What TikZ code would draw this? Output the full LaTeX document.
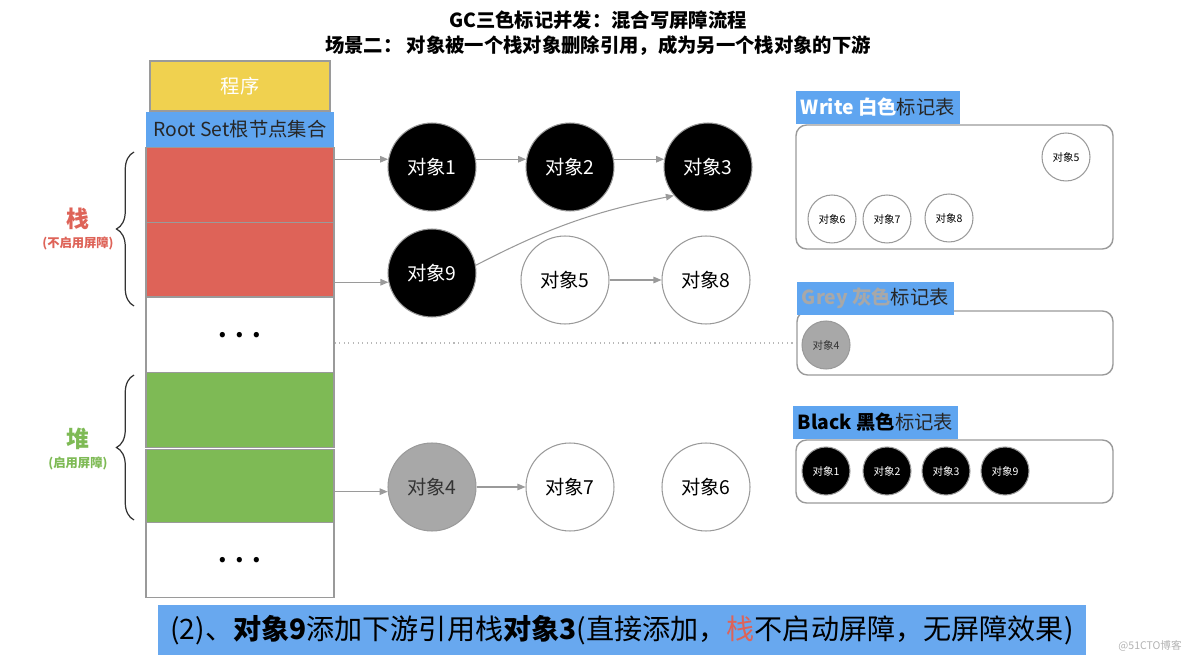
\documentclass[tikz,border=0pt]{standalone}
\usepackage{fontspec}
\setmainfont{Noto Sans CJK SC}
\usepackage{xcolor}
\usepackage{tikz}
\usetikzlibrary{arrows.meta,positioning,decorations.pathreplacing}

\definecolor{progyellow}{HTML}{F0D14F}
\definecolor{rootblue}{HTML}{5FA5F0}
\definecolor{bannerblue}{HTML}{68A8EF}
\definecolor{stackred}{HTML}{DE6358}
\definecolor{heapgreen}{HTML}{7EBA55}
\definecolor{objgrey}{HTML}{A8A8A8}
\definecolor{framegrey}{HTML}{9A9A9A}
\newcommand{\fs}[1]{\fontsize{#1}{#1}\selectfont}

\begin{document}
\begin{tikzpicture}[x=0.02cm, y=-0.02cm,
  cell/.style={draw=framegrey, line width=0.8pt, minimum width=3.76cm, minimum height=1.49cm, inner sep=0pt},
  obj/.style={circle, draw=framegrey, line width=0.6pt, minimum size=1.76cm, inner sep=0pt, font=\fs{11}},
  blackobj/.style={obj, fill=black, text=white},
  mini/.style={circle, draw=framegrey, line width=0.6pt, minimum size=0.96cm, inner sep=0pt, font=\fs{6}},
  marktable/.style={draw=framegrey, rounded corners=6pt, line width=0.8pt, inner sep=0pt},
  tag/.style={fill=rootblue, anchor=south west, inner xsep=3pt, inner ysep=0pt, minimum height=0.66cm, font=\fs{11}, text=black!85},
  link/.style={draw=framegrey, line width=0.6pt, -{Triangle[length=1.6mm,width=1.3mm]}},
  stackbrace/.style={decorate, decoration={brace, amplitude=0.35cm}, line width=0.7pt, black!80}
]
  \useasboundingbox (0,0) rectangle (1184,662);

  % titles
  \node[font=\bfseries\fs{11}] (title) at (598,20) {GC三色标记并发：混合写屏障流程};
  \node[font=\bfseries\fs{11}] (subtitle) at (598,46) {场景二： 对象被一个栈对象删除引用，成为另一个栈对象的下游};

  % program column
  \node[cell, fill=progyellow, minimum width=3.6cm, minimum height=1cm, text=white, font=\fs{11}] (prog) at (240,86) {程序};
  \node[fill=rootblue, minimum width=3.76cm, minimum height=0.7cm, inner sep=0pt, text=black!85, font=\fs{11}] (root) at (240,129.5) {Root Set根节点集合};
  \foreach \name/\y/\col/\txt in {s1/185/stackred/, s2/259.5/stackred/, sdots/335/white/{.\,\,.\,\,.},
                                  h1/410/heapgreen/, h2/486.5/heapgreen/, hdots/560/white/{.\,\,.\,\,.}}
    \node[cell, fill=\col, font=\bfseries\fs{14}] (\name) at (240,\y) {\txt};

  \draw[stackbrace] (134,306) -- (134,152);
  \draw[stackbrace] (134,520) -- (134,375);
  \node[text=stackred, font=\bfseries\fs{13}] (stacklbl) at (78,219) {栈};
  \node[text=stackred, font=\bfseries\fs{7}] (stacknote) at (78,243) {(不启用屏障)};
  \node[text=heapgreen, font=\bfseries\fs{13}] (heaplbl) at (78,439) {堆};
  \node[text=heapgreen, font=\bfseries\fs{7}] (heapnote) at (78,463) {(启用屏障)};

  % objects
  \foreach \n/\x/\y in {1/432/167, 2/570/167, 3/708/167, 9/432/273}
    \node[blackobj] (o\n) at (\x,\y) {对象\n};
  \foreach \n/\x/\y in {5/565/280, 8/706/280, 7/570/487, 6/706/487}
    \node[obj] (o\n) at (\x,\y) {对象\n};
  \node[obj, fill=objgrey, text=black!80] (o4) at (432,487) {对象4};

  \draw[link] (s1.east |- o1.170) -- (o1.170);
  \draw[link] (o1.10) -- (o2.170);
  \draw[link] (o2.10) -- (o3.170);
  \draw[link] (s2.east |- o9.192) -- (o9.192);
  \draw[link] (o9.10) to[bend left=8] (o3.220);
  \draw[link] (o5) -- (o8);
  \draw[link] (h2.east |- o4.186) -- (o4.186);
  \draw[link] (o4) -- (o7);

  % mark tables
  \node[marktable, minimum width=6.34cm, minimum height=2.48cm] (wtab) at (954.5,187) {};
  \node[marktable, minimum width=6.32cm, minimum height=1.28cm] (gtab) at (955,343) {};
  \node[marktable, minimum width=6.34cm, minimum height=1.26cm] (btab) at (954.5,471.5) {};
  \node[tag] (wtag) at (wtab.north west) {{\bfseries\color{white}Write 白色}标记表};
  \node[tag, yshift=-0.1cm] (gtag) at (gtab.north west) {{\bfseries\color{objgrey}Grey 灰色}标记表};
  \node[tag, xshift=-0.06cm] (btag) at (btab.north west) {{\bfseries\color{black}Black 黑色}标记表};

  \foreach \n/\x/\y in {5/1066/157, 6/832/219, 7/887/219, 8/949/218}
    \node[mini] (w\n) at (\x,\y) {对象\n};
  \node[mini, fill=objgrey, text=black!80] (g4) at (826,345) {对象4};
  \foreach \n/\x in {1/826, 2/887, 3/946, 9/1005}
    \node[mini, fill=black, text=white] (b\n) at (\x,471) {对象\n};

  \draw[framegrey!70, dotted, line width=0.6pt] (sdots.east |- gtab.west) -- (gtab.west);

  % caption
  \node[fill=bannerblue, minimum width=18.56cm, minimum height=1cm, inner sep=0pt, font=\fs{16}] (note) at (622,630)
    {(2)、\textbf{对象9}添加下游引用栈\textbf{对象3}(直接添加，{\color{stackred}栈}不启动屏障，无屏障效果)};
  \node[text=black!30, font=\fs{6}] (mark) at (1150,646) {@51CTO博客};
\end{tikzpicture}
\end{document}
